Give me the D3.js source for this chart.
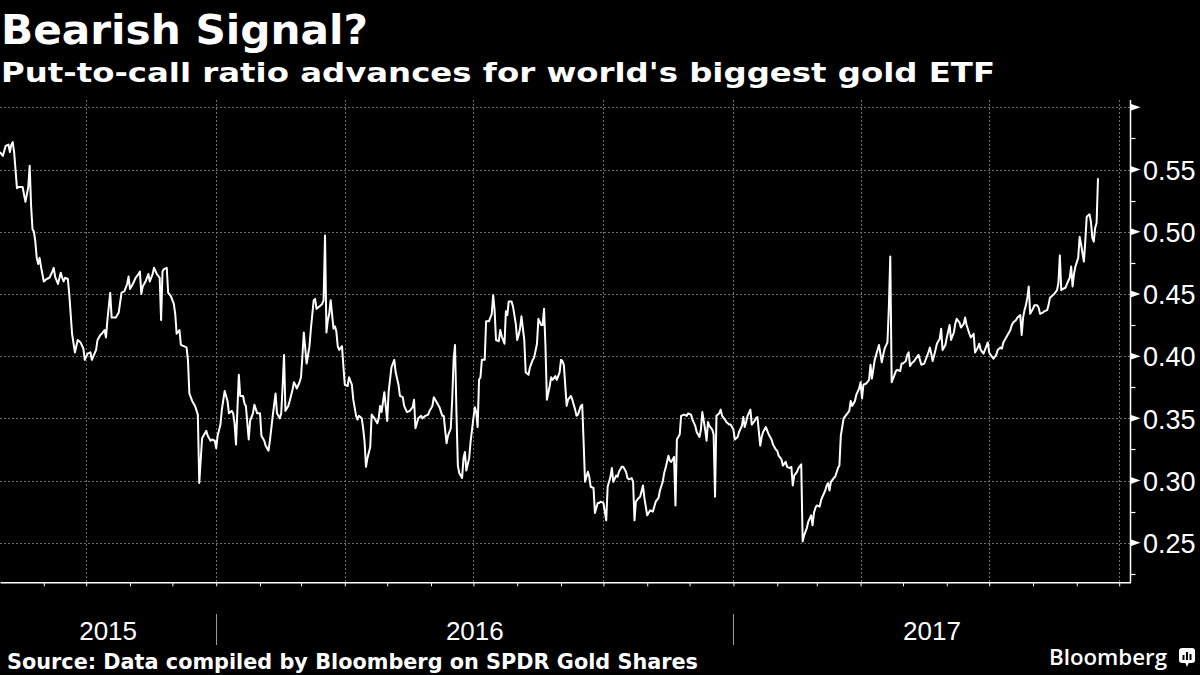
<!DOCTYPE html>
<html><head><meta charset="utf-8">
<script src="https://cdnjs.cloudflare.com/ajax/libs/d3/7.8.5/d3.min.js"></script>
<style>html,body{margin:0;padding:0;background:#000;}svg{display:block;}</style>
</head><body>
<svg id="chart" width="1200" height="675"></svg>
<script>
const title = "Bearish Signal?";
const subtitle = "Put-to-call ratio advances for world's biggest gold ETF";
const source = "Source: Data compiled by Bloomberg on SPDR Gold Shares";
const yearLabels = ["2015", "2016", "2017"];
const yTickValues = [0.25, 0.30, 0.35, 0.40, 0.45, 0.50, 0.55, 0.60];
const yLabelValues = [0.25, 0.30, 0.35, 0.40, 0.45, 0.50, 0.55];
const yMinorValues = [0.225, 0.275, 0.325, 0.375, 0.425, 0.475, 0.525, 0.575];

const dates = [
"2015-08-01","2015-08-03","2015-08-05","2015-08-07","2015-08-08","2015-08-09","2015-08-10","2015-08-11","2015-08-13","2015-08-14","2015-08-17","2015-08-19","2015-08-21","2015-08-22","2015-08-23","2015-08-24","2015-08-25","2015-08-26","2015-08-27","2015-08-28","2015-08-29","2015-08-30",
"2015-09-01","2015-09-03","2015-09-05","2015-09-07","2015-09-08","2015-09-09","2015-09-11","2015-09-13","2015-09-14","2015-09-15","2015-09-16","2015-09-18","2015-09-19","2015-09-20","2015-09-21","2015-09-23","2015-09-25","2015-09-27","2015-09-29","2015-09-30",
"2015-10-02","2015-10-04","2015-10-05","2015-10-08","2015-10-09","2015-10-11","2015-10-12","2015-10-14","2015-10-15","2015-10-16","2015-10-18","2015-10-19","2015-10-22","2015-10-24","2015-10-26","2015-10-28","2015-10-30","2015-10-31",
"2015-11-01","2015-11-03","2015-11-05","2015-11-07","2015-11-08","2015-11-09","2015-11-10","2015-11-12","2015-11-14","2015-11-15","2015-11-17","2015-11-18","2015-11-20","2015-11-22","2015-11-23","2015-11-24","2015-11-25","2015-11-27","2015-11-28","2015-11-30",
"2015-12-02","2015-12-03","2015-12-04","2015-12-06","2015-12-07","2015-12-09","2015-12-11","2015-12-12","2015-12-13","2015-12-15","2015-12-17","2015-12-19","2015-12-20","2015-12-22","2015-12-23","2015-12-25","2015-12-26","2015-12-28","2015-12-29","2015-12-31",
"2016-01-01","2016-01-02","2016-01-04","2016-01-05","2016-01-07","2016-01-09","2016-01-10","2016-01-12","2016-01-13","2016-01-14","2016-01-15","2016-01-17","2016-01-18","2016-01-20","2016-01-21","2016-01-22","2016-01-24","2016-01-25","2016-01-27","2016-01-28","2016-01-30",
"2016-02-01","2016-02-02","2016-02-04","2016-02-05","2016-02-07","2016-02-08","2016-02-10","2016-02-12","2016-02-13","2016-02-15","2016-02-16","2016-02-17","2016-02-18","2016-02-19","2016-02-21","2016-02-22","2016-02-24","2016-02-25","2016-02-26","2016-02-27","2016-02-29",
"2016-03-01","2016-03-02","2016-03-03","2016-03-05","2016-03-07","2016-03-08","2016-03-10","2016-03-11","2016-03-12","2016-03-14","2016-03-16","2016-03-17","2016-03-18","2016-03-19","2016-03-20","2016-03-21","2016-03-22","2016-03-24","2016-03-25","2016-03-26","2016-03-27","2016-03-28","2016-03-30","2016-03-31",
"2016-04-01","2016-04-03","2016-04-04","2016-04-06","2016-04-07","2016-04-09","2016-04-10","2016-04-11","2016-04-13","2016-04-14","2016-04-15","2016-04-16","2016-04-17","2016-04-19","2016-04-20","2016-04-22","2016-04-24","2016-04-25","2016-04-26","2016-04-27","2016-04-29",
"2016-05-01","2016-05-02","2016-05-04","2016-05-06","2016-05-07","2016-05-09","2016-05-10","2016-05-12","2016-05-13","2016-05-15","2016-05-17","2016-05-19","2016-05-20","2016-05-21","2016-05-23","2016-05-25","2016-05-26","2016-05-28","2016-05-30","2016-05-31",
"2016-06-02","2016-06-03","2016-06-05","2016-06-07","2016-06-09","2016-06-10","2016-06-12","2016-06-13","2016-06-15","2016-06-16","2016-06-17","2016-06-18","2016-06-19","2016-06-20","2016-06-21","2016-06-22","2016-06-23","2016-06-24","2016-06-25","2016-06-26","2016-06-28","2016-06-29",
"2016-07-01","2016-07-02","2016-07-03","2016-07-04","2016-07-05","2016-07-06","2016-07-07","2016-07-09","2016-07-10","2016-07-12","2016-07-14","2016-07-15","2016-07-16","2016-07-17","2016-07-19","2016-07-20","2016-07-21","2016-07-23","2016-07-24","2016-07-25","2016-07-26","2016-07-28","2016-07-29","2016-07-31",
"2016-08-01","2016-08-02","2016-08-03","2016-08-04","2016-08-06","2016-08-07","2016-08-09","2016-08-10","2016-08-12","2016-08-13","2016-08-15","2016-08-16","2016-08-18","2016-08-19","2016-08-20","2016-08-21","2016-08-22","2016-08-24","2016-08-25","2016-08-26","2016-08-28","2016-08-29","2016-08-31",
"2016-09-01","2016-09-02","2016-09-03","2016-09-05","2016-09-06","2016-09-08","2016-09-09","2016-09-11","2016-09-12","2016-09-13","2016-09-15","2016-09-16","2016-09-17","2016-09-18","2016-09-20","2016-09-21","2016-09-22","2016-09-24","2016-09-25","2016-09-27","2016-09-28","2016-09-29",
"2016-10-01","2016-10-02","2016-10-03","2016-10-04","2016-10-06","2016-10-07","2016-10-08","2016-10-10","2016-10-11","2016-10-12","2016-10-14","2016-10-15","2016-10-17","2016-10-18","2016-10-19","2016-10-21","2016-10-22","2016-10-23","2016-10-24","2016-10-26","2016-10-27","2016-10-29","2016-10-30",
"2016-11-01","2016-11-02","2016-11-03","2016-11-05","2016-11-07","2016-11-09","2016-11-10","2016-11-12","2016-11-13","2016-11-14","2016-11-16","2016-11-17","2016-11-18","2016-11-20","2016-11-21","2016-11-22","2016-11-24","2016-11-25","2016-11-27","2016-11-29","2016-11-30",
"2016-12-02","2016-12-03","2016-12-05","2016-12-06","2016-12-08","2016-12-09","2016-12-10","2016-12-12","2016-12-13","2016-12-14","2016-12-15","2016-12-17","2016-12-18","2016-12-19","2016-12-20","2016-12-22","2016-12-23","2016-12-24","2016-12-26","2016-12-27","2016-12-29","2016-12-30",
"2017-01-01","2017-01-02","2017-01-04","2017-01-05","2017-01-07","2017-01-08","2017-01-09","2017-01-10","2017-01-11","2017-01-13","2017-01-14","2017-01-16","2017-01-17","2017-01-18","2017-01-20","2017-01-21","2017-01-22","2017-01-24","2017-01-25","2017-01-26","2017-01-28","2017-01-29","2017-01-31",
"2017-02-01","2017-02-02","2017-02-04","2017-02-05","2017-02-07","2017-02-08","2017-02-10","2017-02-11","2017-02-12","2017-02-13","2017-02-15","2017-02-16","2017-02-18","2017-02-19","2017-02-20","2017-02-22","2017-02-23","2017-02-25","2017-02-26","2017-02-27","2017-02-28",
"2017-03-01","2017-03-03","2017-03-04","2017-03-05","2017-03-07","2017-03-08","2017-03-09","2017-03-10","2017-03-11","2017-03-13","2017-03-14","2017-03-16","2017-03-17","2017-03-18","2017-03-20","2017-03-22","2017-03-24","2017-03-25","2017-03-26","2017-03-28","2017-03-29","2017-03-31",
"2017-04-01","2017-04-02","2017-04-03","2017-04-05","2017-04-07","2017-04-08","2017-04-09","2017-04-11","2017-04-12","2017-04-14","2017-04-16","2017-04-17","2017-04-18","2017-04-20","2017-04-21","2017-04-22","2017-04-23","2017-04-25","2017-04-26","2017-04-27","2017-04-29","2017-04-30",
"2017-05-01","2017-05-03","2017-05-04","2017-05-05","2017-05-06","2017-05-07","2017-05-09","2017-05-10","2017-05-12","2017-05-13","2017-05-14","2017-05-16","2017-05-17","2017-05-19","2017-05-20","2017-05-21","2017-05-22","2017-05-24","2017-05-25","2017-05-27","2017-05-28","2017-05-29","2017-05-31",
"2017-06-01","2017-06-03","2017-06-04","2017-06-06","2017-06-07","2017-06-08","2017-06-10","2017-06-11","2017-06-13","2017-06-14","2017-06-15","2017-06-17","2017-06-18","2017-06-20","2017-06-21","2017-06-23","2017-06-24","2017-06-25","2017-06-27","2017-06-28","2017-06-30",
"2017-07-01","2017-07-02","2017-07-04","2017-07-06","2017-07-07","2017-07-09","2017-07-10","2017-07-11","2017-07-13","2017-07-14","2017-07-16","2017-07-17","2017-07-18","2017-07-20","2017-07-21","2017-07-23","2017-07-24","2017-07-25","2017-07-26","2017-07-27","2017-07-28","2017-07-29","2017-07-30",
"2017-08-01","2017-08-02","2017-08-04","2017-08-05","2017-08-06","2017-08-08","2017-08-09","2017-08-11","2017-08-12","2017-08-13","2017-08-15","2017-08-16","2017-08-18","2017-08-19","2017-08-20","2017-08-21","2017-08-22","2017-08-24","2017-08-25","2017-08-27","2017-08-28","2017-08-29","2017-08-30","2017-08-31",
"2017-09-02","2017-09-03","2017-09-04","2017-09-06","2017-09-07","2017-09-08","2017-09-10","2017-09-11","2017-09-12","2017-09-13","2017-09-14","2017-09-15","2017-09-16"
];

const values = [
.564,.561,.569,.570,.564,.570,.572,.564,.535,.536,.536,.524,.536,.553,.521,.502,.500,.492,.479,.474,.479,.472,
.460,.462,.463,.468,.471,.464,.458,.467,.463,.460,.463,.462,.450,.434,.418,.403,.413,.411,.406,.397,
.402,.403,.397,.405,.413,.417,.418,.421,.415,.429,.451,.431,.431,.435,.451,.452,.458,.464,
.454,.458,.463,.466,.468,.450,.456,.460,.466,.460,.466,.471,.466,.463,.429,.468,.470,.471,.451,.448,
.442,.434,.418,.421,.409,.408,.407,.397,.370,.364,.360,.353,.298,.334,.336,.340,.336,.332,.333,.332,
.326,.336,.345,.357,.372,.364,.354,.356,.354,.346,.329,.385,.368,.368,.362,.360,.333,.348,.354,.361,.354,
.354,.336,.332,.328,.324,.332,.352,.370,.354,.350,.354,.376,.401,.356,.360,.364,.373,.379,.377,.374,.379,
.383,.400,.419,.394,.408,.422,.445,.446,.438,.440,.442,.445,.497,.419,.429,.434,.445,.422,.424,.420,.408,.405,.408,.392,
.377,.376,.383,.377,.365,.352,.349,.352,.350,.342,.331,.311,.318,.327,.353,.350,.346,.350,.360,.355,.371,
.348,.371,.391,.397,.387,.377,.368,.367,.360,.355,.356,.359,.365,.342,.350,.352,.350,.352,.353,.356,
.360,.367,.363,.359,.352,.352,.330,.336,.342,.365,.397,.409,.355,.312,.306,.304,.302,.318,.323,.308,.318,.331,
.350,.359,.355,.343,.381,.383,.397,.397,.428,.428,.434,.449,.437,.413,.412,.421,.416,.410,.436,.433,.444,.444,.440,.426,
.413,.417,.422,.432,.413,.387,.385,.391,.397,.399,.410,.430,.425,.425,.438,.408,.365,.376,.383,.381,.384,.381,.387,
.397,.396,.393,.360,.365,.368,.365,.357,.352,.353,.360,.361,.331,.299,.307,.303,.295,.294,.274,.282,.282,.283,
.282,.275,.268,.295,.303,.310,.299,.304,.303,.307,.311,.311,.307,.302,.301,.302,.299,.268,.283,.286,.287,.296,.286,
.272,.274,.276,.275,.283,.286,.292,.299,.306,.310,.320,.316,.315,.319,.280,.333,.337,.352,.353,.352,.354,
.353,.349,.344,.339,.335,.341,.355,.341,.332,.347,.344,.341,.337,.287,.352,.354,.357,.352,.349,.347,.345,.345,
.341,.333,.335,.339,.344,.351,.343,.347,.352,.357,.345,.348,.350,.351,.328,.335,.339,.343,.340,.337,.333,.329,.325,
.324,.320,.317,.312,.315,.311,.310,.311,.296,.304,.307,.310,.313,.251,.256,.262,.267,.272,.264,.274,.278,
.280,.279,.284,.287,.292,.296,.298,.292,.299,.302,.303,.310,.312,.336,.350,.353,.356,.364,.360,.364,.369,.374,
.379,.366,.377,.378,.381,.393,.382,.397,.401,.409,.395,.401,.406,.411,.439,.480,.379,.385,.388,.389,.388,.394,
.394,.396,.401,.403,.392,.394,.396,.398,.401,.397,.393,.394,.397,.403,.407,.402,.396,.405,.410,.414,.422,.405,.409,
.415,.425,.413,.419,.426,.430,.427,.423,.426,.431,.425,.418,.415,.418,.403,.407,.410,.405,.402,.405,.411,
.403,.401,.398,.401,.405,.407,.406,.411,.415,.417,.421,.425,.427,.429,.431,.433,.417,.431,.437,.441,.447,.456,.434,
.438,.441,.441,.439,.434,.435,.436,.437,.441,.447,.449,.450,.453,.459,.481,.453,.454,.455,.458,.463,.472,.456,.466,.472,
.479,.496,.490,.476,.492,.512,.514,.508,.495,.492,.503,.507,.543
];

const W = 1200, H = 675;
const plotLeft = 0, plotRight = 1130.5, plotTop = 100, plotBottom = 582.3;
const parse = d3.timeParse("%Y-%m-%d");
const data = dates.map((d, i) => ({date: parse(d), v: values[i]})).sort((a, b) => a.date - b.date);

const svg = d3.select("#chart");
svg.append("rect").attr("width", W).attr("height", H).attr("fill", "#000");

const x = d3.scaleTime()
  .domain([new Date(2015, 7, 1), new Date(2017, 9, 9)])
  .range([plotLeft, plotRight]);
const y = d3.scaleLinear().domain([0.2182, 0.6059]).range([plotBottom, plotTop]);

// Title / subtitle
svg.append("text").text(title)
  .attr("x", 1).attr("y", 44)
  .attr("fill", "#fff").attr("font-family", "DejaVu Sans, sans-serif")
  .attr("font-weight", "bold").attr("font-size", 40)
  .attr("textLength", 367).attr("lengthAdjust", "spacingAndGlyphs");
svg.append("text").text(subtitle)
  .attr("x", 1).attr("y", 82)
  .attr("fill", "#fff").attr("font-family", "DejaVu Sans, sans-serif")
  .attr("font-weight", "bold").attr("font-size", 26)
  .attr("textLength", 994).attr("lengthAdjust", "spacingAndGlyphs");

// Grid
const grid = svg.append("g").attr("stroke", "#6e6e6e").attr("stroke-width", 1).attr("stroke-dasharray", "2,2");
grid.selectAll("line.h").data(yTickValues).enter().append("line")
  .attr("x1", plotLeft).attr("x2", plotRight)
  .attr("y1", d => Math.round(y(d)) + 0.5).attr("y2", d => Math.round(y(d)) + 0.5);
const quarters = x.ticks(d3.timeMonth.every(3)).filter(d => x(d) > 5 && x(d) < plotRight - 2);
grid.selectAll("line.v").data(quarters).enter().append("line")
  .attr("x1", d => Math.round(x(d)) + 0.5).attr("x2", d => Math.round(x(d)) + 0.5)
  .attr("y1", plotTop).attr("y2", plotBottom);

// X axis
const months = x.ticks(d3.timeMonth.every(1)).filter(d => x(d) > 5);
const xAxis = d3.axisBottom(x).tickValues(months).tickSize(4).tickSizeOuter(0).tickFormat("");
const gx = svg.append("g").attr("transform", `translate(0,${plotBottom})`).call(xAxis);
gx.select(".domain").attr("stroke", "#fff").attr("stroke-width", 1.5);
gx.selectAll(".tick line").attr("stroke", "#fff").attr("stroke-width", 1);

// Year separators and labels
const [d0, d1] = x.domain();
const yearStarts = yearLabels.map(yl => new Date(+yl, 0, 1));
yearStarts.forEach(ys => {
  if (ys > d0 && ys < d1) {
    svg.append("line")
      .attr("x1", Math.round(x(ys)) + 0.5).attr("x2", Math.round(x(ys)) + 0.5)
      .attr("y1", 614).attr("y2", 645)
      .attr("stroke", "#9a9a9a").attr("stroke-width", 1);
  }
});
yearLabels.forEach((yl) => {
  const s = new Date(Math.max(+d0, +new Date(+yl, 0, 1)));
  const e = new Date(Math.min(+d1, +new Date(+yl + 1, 0, 1)));
  svg.append("text").text(yl)
    .attr("x", (x(s) + x(e)) / 2).attr("y", 640)
    .attr("text-anchor", "middle").attr("fill", "#fff")
    .attr("font-family", "Liberation Sans, Arial, sans-serif").attr("font-size", 26);
});

// Y axis
const yAxis = d3.axisRight(y).tickValues(yLabelValues).tickSize(0).tickPadding(12.5).tickFormat(d3.format(".2f"));
const gy = svg.append("g").attr("transform", `translate(${plotRight},0)`).call(yAxis);
gy.select(".domain").remove();
gy.selectAll(".tick text")
  .attr("fill", "#fff").attr("font-family", "Liberation Sans, Arial, sans-serif").attr("font-size", 27)
  .attr("dy", "0.36em");
svg.append("line")
  .attr("x1", plotRight).attr("x2", plotRight)
  .attr("y1", plotTop).attr("y2", plotBottom)
  .attr("stroke", "#fff").attr("stroke-width", 1.5);
svg.append("g").selectAll("path").data(yTickValues).enter().append("path")
  .attr("d", "M0,-3.5L10,0L0,3.5Z")
  .attr("transform", d => `translate(${plotRight},${y(d)})`)
  .attr("fill", "#fff");
svg.append("g").selectAll("line").data(yMinorValues).enter().append("line")
  .attr("x1", plotRight).attr("x2", plotRight + 5)
  .attr("y1", d => Math.round(y(d)) + 0.5).attr("y2", d => Math.round(y(d)) + 0.5)
  .attr("stroke", "#fff").attr("stroke-width", 1.2);

// Data line
const line = d3.line().x(d => x(d.date)).y(d => y(d.v));
svg.append("path").datum(data)
  .attr("d", line)
  .attr("fill", "none").attr("stroke", "#fff").attr("stroke-width", 2)
  .attr("stroke-linejoin", "round");

// Source
svg.append("text").text(source)
  .attr("x", 7).attr("y", 669)
  .attr("fill", "#fff").attr("font-family", "DejaVu Sans, sans-serif")
  .attr("font-weight", "bold").attr("font-size", 21)
  .attr("textLength", 691).attr("lengthAdjust", "spacingAndGlyphs");

// Bloomberg logo
svg.append("text").text("Bloomberg")
  .attr("x", 1049).attr("y", 665)
  .attr("fill", "#fff").attr("font-family", "Open Sans, sans-serif")
  .attr("font-weight", 600).attr("font-size", 22)
  .attr("textLength", 118).attr("lengthAdjust", "spacingAndGlyphs");
const logo = svg.append("g").attr("transform", "translate(1179,648)");
logo.append("rect").attr("width", 16).attr("height", 15).attr("rx", 3).attr("fill", "#fff");
logo.append("path").attr("d", "M6,14L8,19L10,14Z").attr("fill", "#fff");
logo.append("rect").attr("x", 3.5).attr("y", 7).attr("width", 2).attr("height", 5).attr("fill", "#000");
logo.append("rect").attr("x", 7).attr("y", 4).attr("width", 2).attr("height", 8).attr("fill", "#000");
logo.append("rect").attr("x", 10.5).attr("y", 6).attr("width", 2).attr("height", 6).attr("fill", "#000");
</script>
</body></html>
